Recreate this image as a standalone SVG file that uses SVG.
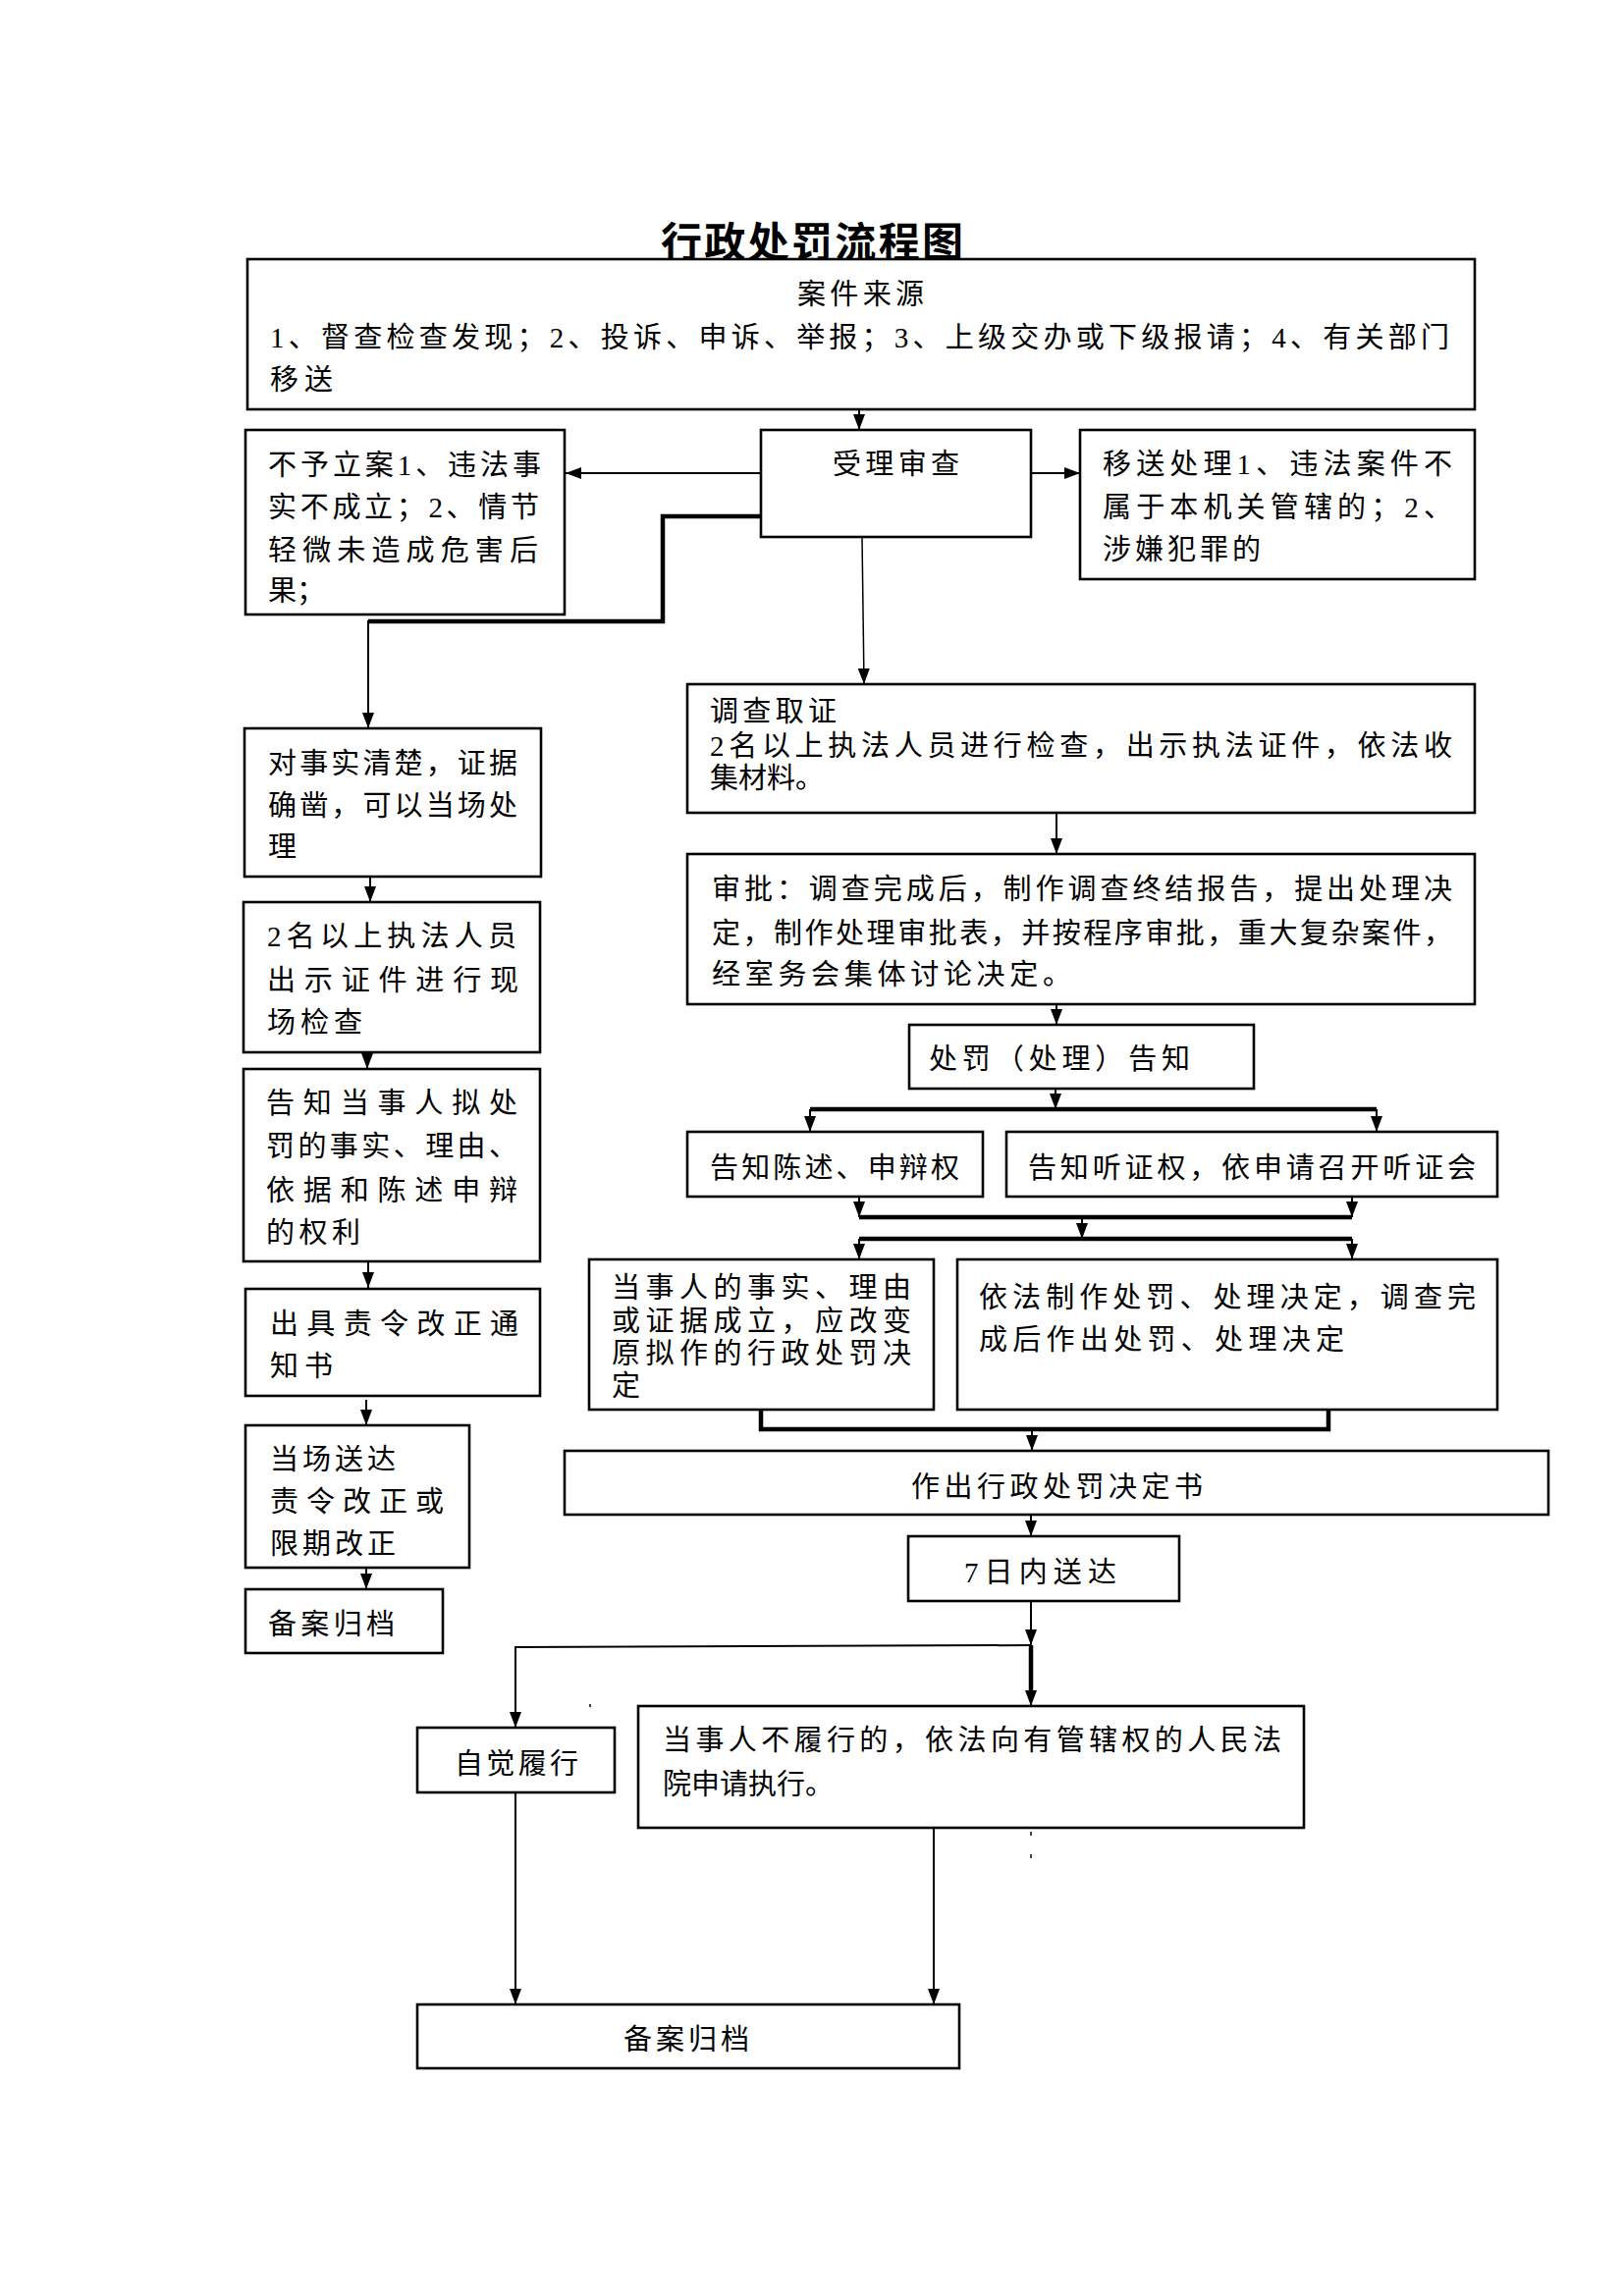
<svg xmlns="http://www.w3.org/2000/svg" width="1654" height="2339" viewBox="0 0 1654 2339">
<defs>
<style>
.bg{fill:#fff}
.box{fill:#fff;stroke:#000;stroke-width:2.6}
.t{font-family:"Liberation Serif","Noto Sans CJK SC",serif;font-size:29px;fill:#000}
.title{font-family:"Liberation Serif","Noto Sans CJK SC",serif;font-size:42px;font-weight:bold;fill:#000}
.c{fill:none;stroke:#000;stroke-width:2}
.k{fill:none;stroke:#000;stroke-width:4.5}
.m{fill:none;stroke:#000;stroke-width:1.5}
</style>
<marker id="ah" viewBox="0 0 16 12" refX="16" refY="6" markerWidth="16" markerHeight="12" markerUnits="userSpaceOnUse" orient="auto">
<path d="M0,0 L16,6 L0,12 z" fill="#000"/>
</marker>
</defs>
<rect class="bg" x="0" y="0" width="1654" height="2339"/>
<text class="title" x="673" y="262" textLength="308">行政处罚流程图</text>

<g id="connectors">
<line class="c" x1="875" y1="417" x2="875" y2="438" marker-end="url(#ah)"/>
<line class="c" x1="775" y1="482" x2="576" y2="482" marker-end="url(#ah)"/>
<line class="c" x1="1050" y1="482" x2="1100" y2="482" marker-end="url(#ah)"/>
<polyline class="k" points="775,526 675,526 675,633 375,633"/>
<line class="c" x1="375" y1="632" x2="375" y2="742" marker-end="url(#ah)"/>
<line class="m" x1="878" y1="547" x2="880" y2="697" marker-end="url(#ah)"/>
<line class="c" x1="1076" y1="828" x2="1076" y2="870" marker-end="url(#ah)"/>
<line class="c" x1="1076" y1="1023" x2="1076" y2="1044" marker-end="url(#ah)"/>
<line class="c" x1="1075" y1="1109" x2="1075" y2="1130" marker-end="url(#ah)"/>
<line class="k" x1="825" y1="1130" x2="1402" y2="1130"/>
<line class="c" x1="825" y1="1130" x2="825" y2="1153" marker-end="url(#ah)"/>
<line class="c" x1="1402" y1="1130" x2="1402" y2="1153" marker-end="url(#ah)"/>
<line class="c" x1="875" y1="1219" x2="875" y2="1240" marker-end="url(#ah)"/>
<line class="c" x1="1377" y1="1219" x2="1377" y2="1240" marker-end="url(#ah)"/>
<line class="k" x1="875" y1="1240" x2="1377" y2="1240"/>
<line class="c" x1="1102" y1="1240" x2="1102" y2="1262" marker-end="url(#ah)"/>
<line class="k" x1="875" y1="1262" x2="1377" y2="1262"/>
<line class="c" x1="875" y1="1262" x2="875" y2="1283" marker-end="url(#ah)"/>
<line class="c" x1="1377" y1="1262" x2="1377" y2="1283" marker-end="url(#ah)"/>
<polyline class="k" points="775,1436 775,1456 1353,1456 1353,1436"/>
<line class="c" x1="1051" y1="1456" x2="1051" y2="1478" marker-end="url(#ah)"/>
<line class="c" x1="1050" y1="1543" x2="1050" y2="1565" marker-end="url(#ah)"/>
<line class="c" x1="1050" y1="1631" x2="1050" y2="1676" marker-end="url(#ah)"/>
<line class="c" x1="525" y1="1678" x2="1050" y2="1676"/>
<line class="k" x1="1050" y1="1676" x2="1050" y2="1724"/>
<line class="c" x1="1050" y1="1720" x2="1050" y2="1738" marker-end="url(#ah)"/>
<line class="c" x1="525" y1="1677" x2="525" y2="1760" marker-end="url(#ah)"/>
<line class="c" x1="525" y1="1826" x2="525" y2="2042" marker-end="url(#ah)"/>
<line class="c" x1="951" y1="1862" x2="951" y2="2042" marker-end="url(#ah)"/>
<line class="c" x1="377" y1="893" x2="377" y2="919" marker-end="url(#ah)"/>
<line class="c" x1="374" y1="1073" x2="374" y2="1089" marker-end="url(#ah)"/>
<line class="c" x1="375" y1="1286" x2="375" y2="1312" marker-end="url(#ah)"/>
<line class="c" x1="373" y1="1426" x2="373" y2="1452" marker-end="url(#ah)"/>
<line class="c" x1="373" y1="1598" x2="373" y2="1619" marker-end="url(#ah)"/>
<line class="m" x1="601" y1="1736" x2="601" y2="1739"/>
<line class="m" x1="1050" y1="1844" x2="1050" y2="1848"/>
<line class="m" x1="1050" y1="1866" x2="1050" y2="1870"/>
<line class="m" x1="1050" y1="1889" x2="1050" y2="1893"/>
</g>

<g id="n_source">
<rect class="box" x="252" y="264" width="1250" height="153"/>
<text class="t" x="812" y="310" textLength="129">案件来源</text>
<text class="t" x="275" y="354" textLength="1201">1、督查检查发现；2、投诉、申诉、举报；3、上级交办或下级报请；4、有关部门</text>
<text class="t" x="275" y="397" textLength="64">移送</text>
</g>

<g id="n_accept">
<rect class="box" x="775" y="438" width="275" height="109"/>
<text class="t" x="848" y="483" textLength="129">受理审查</text>
</g>

<g id="n_noreg">
<rect class="box" x="250" y="438" width="325" height="188"/>
<text class="t" x="273" y="484" textLength="278">不予立案1、违法事</text>
<text class="t" x="273" y="527" textLength="276">实不成立；2、情节</text>
<text class="t" x="273" y="571" textLength="275">轻微未造成危害后</text>
<text class="t" x="273" y="612">果；</text>
</g>

<g id="n_transfer">
<rect class="box" x="1100" y="438" width="402" height="152"/>
<text class="t" x="1123" y="483" textLength="356">移送处理1、违法案件不</text>
<text class="t" x="1123" y="527" textLength="356">属于本机关管辖的；2、</text>
<text class="t" x="1123" y="570" textLength="161">涉嫌犯罪的</text>
</g>

<g id="n_facts">
<rect class="box" x="249" y="742" width="302" height="151"/>
<text class="t" x="273" y="788" textLength="254">对事实清楚，证据</text>
<text class="t" x="273" y="831" textLength="254">确凿，可以当场处</text>
<text class="t" x="273" y="873">理</text>
</g>

<g id="n_onsite">
<rect class="box" x="248" y="919" width="302" height="153"/>
<text class="t" x="272" y="964" textLength="254">2名以上执法人员</text>
<text class="t" x="272" y="1009" textLength="256">出示证件进行现</text>
<text class="t" x="272" y="1052" textLength="97">场检查</text>
</g>

<g id="n_inform_left">
<rect class="box" x="248" y="1089" width="302" height="196"/>
<text class="t" x="271" y="1134" textLength="256">告知当事人拟处</text>
<text class="t" x="271" y="1178" textLength="256">罚的事实、理由、</text>
<text class="t" x="271" y="1223" textLength="256">依据和陈述申辩</text>
<text class="t" x="271" y="1266" textLength="96">的权利</text>
</g>

<g id="n_order">
<rect class="box" x="250" y="1313" width="300" height="109"/>
<text class="t" x="275" y="1359" textLength="253">出具责令改正通</text>
<text class="t" x="275" y="1402" textLength="64">知书</text>
</g>

<g id="n_deliver_left">
<rect class="box" x="250" y="1452" width="228" height="145"/>
<text class="t" x="275" y="1497" textLength="128">当场送达</text>
<text class="t" x="275" y="1540" textLength="177">责令改正或</text>
<text class="t" x="275" y="1583" textLength="128">限期改正</text>
</g>

<g id="n_archive_left">
<rect class="box" x="250" y="1619" width="201" height="65"/>
<text class="t" x="273" y="1665" textLength="129">备案归档</text>
</g>

<g id="n_investigate">
<rect class="box" x="700" y="697" width="802" height="131"/>
<text class="t" x="723" y="735" textLength="129">调查取证</text>
<text class="t" x="723" y="770" textLength="756">2名以上执法人员进行检查，出示执法证件，依法收</text>
<text class="t" x="723" y="803">集材料。</text>
</g>

<g id="n_approve">
<rect class="box" x="700" y="870" width="802" height="153"/>
<text class="t" x="725" y="916" textLength="754">审批：调查完成后，制作调查终结报告，提出处理决</text>
<text class="t" x="725" y="961" textLength="754">定，制作处理审批表，并按程序审批，重大复杂案件，</text>
<text class="t" x="725" y="1003" textLength="366">经室务会集体讨论决定。</text>
</g>

<g id="n_notice">
<rect class="box" x="926" y="1044" width="351" height="65"/>
<text class="t" x="946" y="1089" textLength="266">处罚（处理）告知</text>
</g>

<g id="n_statement">
<rect class="box" x="700" y="1153" width="301" height="66"/>
<text class="t" x="723" y="1200" textLength="254">告知陈述、申辩权</text>
</g>

<g id="n_hearing">
<rect class="box" x="1025" y="1153" width="500" height="66"/>
<text class="t" x="1047" y="1200" textLength="456">告知听证权，依申请召开听证会</text>
</g>

<g id="n_change">
<rect class="box" x="600" y="1283" width="351" height="153"/>
<text class="t" x="623" y="1322" textLength="305">当事人的事实、理由</text>
<text class="t" x="623" y="1356" textLength="305">或证据成立，应改变</text>
<text class="t" x="623" y="1389" textLength="305">原拟作的行政处罚决</text>
<text class="t" x="623" y="1422">定</text>
</g>

<g id="n_decide">
<rect class="box" x="975" y="1283" width="550" height="153"/>
<text class="t" x="997" y="1332" textLength="506">依法制作处罚、处理决定，调查完</text>
<text class="t" x="997" y="1375" textLength="372">成后作出处罚、处理决定</text>
</g>

<g id="n_decision">
<rect class="box" x="575" y="1478" width="1002" height="65"/>
<text class="t" x="928" y="1525" textLength="297">作出行政处罚决定书</text>
</g>

<g id="n_7days">
<rect class="box" x="925" y="1565" width="276" height="66"/>
<text class="t" x="982" y="1612" textLength="155">7日内送达</text>
</g>

<g id="n_comply">
<rect class="box" x="425" y="1760" width="201" height="66"/>
<text class="t" x="463" y="1807" textLength="126">自觉履行</text>
</g>

<g id="n_court">
<rect class="box" x="650" y="1738" width="678" height="124"/>
<text class="t" x="675" y="1783" textLength="630">当事人不履行的，依法向有管辖权的人民法</text>
<text class="t" x="675" y="1828">院申请执行。</text>
</g>

<g id="n_archive">
<rect class="box" x="425" y="2042" width="552" height="65"/>
<text class="t" x="635" y="2088" textLength="128">备案归档</text>
</g>
</svg>
